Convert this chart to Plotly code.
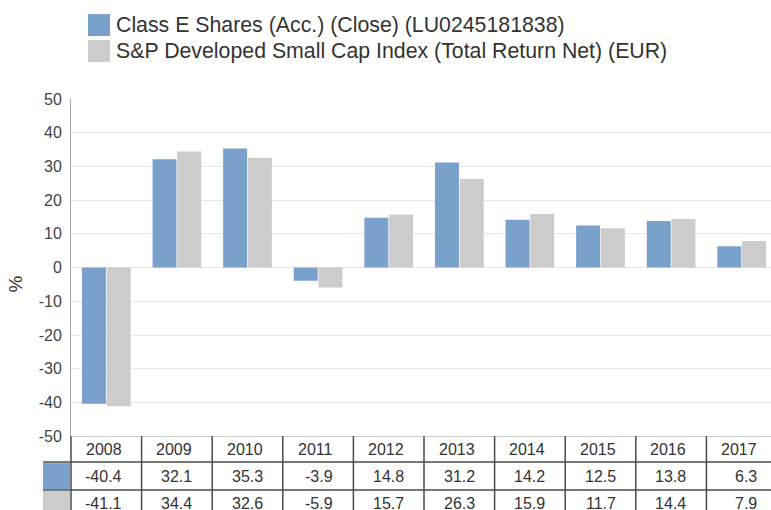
import plotly.graph_objects as go

years = ["2008", "2009", "2010", "2011", "2012", "2013", "2014", "2015", "2016", "2017"]
fund_name = "Class E Shares (Acc.) (Close) (LU0245181838)"
index_name = "S&P Developed Small Cap Index (Total Return Net) (EUR)"
fund_values = [-40.4, 32.1, 35.3, -3.9, 14.8, 31.2, 14.2, 12.5, 13.8, 6.3]
index_values = [-41.1, 34.4, 32.6, -5.9, 15.7, 26.3, 15.9, 11.7, 14.4, 7.9]
y_ticks = [-50, -40, -30, -20, -10, 0, 10, 20, 30, 40, 50]
y_tick_labels = ["-50", "-40", "-30", "-20", "-10", "0", "10", "20", "30", "40", "50"]

BLUE = "#7aa0cc"
GRAY = "#cccccc"
LINE = "#4a4a4a"
TEXT = "#333333"
FONT = "Arial, Liberation Sans, sans-serif"

W, H = 771, 520
SY = H / 510.0
L, R = 71, 0
T = round(97 * SY)
B = 0
PW, PH = W - L - R, H - T - B
XR = [-0.5, 9.415]


def pxx(p):
    return (p - L) / PW


def pxy(p):
    return (H - p * SY) / PH


def dx(v):
    return (v - XR[0]) / (XR[1] - XR[0])


fig = go.Figure()
fig.add_trace(go.Bar(x=list(range(len(years))), y=fund_values, name=fund_name,
                     marker=dict(color=BLUE, line=dict(width=0)), showlegend=False))
fig.add_trace(go.Bar(x=list(range(len(years))), y=index_values, name=index_name,
                     marker=dict(color=GRAY, line=dict(width=0)), showlegend=False))

shapes = []
annotations = []

# custom legend
for k, (name, col) in enumerate([(fund_name, BLUE), (index_name, GRAY)]):
    top = 12 + 26 * k
    shapes.append(dict(type="rect", xref="paper", yref="paper",
                       x0=pxx(88), x1=pxx(110), y0=pxy(top + 22), y1=pxy(top),
                       fillcolor=col, line=dict(width=0)))
    annotations.append(dict(xref="paper", yref="paper", x=pxx(114), y=pxy(top + 11),
                            xanchor="left", yanchor="middle", text=name, showarrow=False,
                            font=dict(size=21.3, color=TEXT, family=FONT)))

# y axis title
annotations.append(dict(xref="paper", yref="paper", x=pxx(15), y=pxy(283), text="%",
                        textangle=-90, showarrow=False, xanchor="center", yanchor="middle",
                        font=dict(size=19, color=TEXT, family=FONT)))

# table grid
for i in range(len(years) + 1):
    xv = dx(i - 0.5)
    if xv <= 1.0:
        shapes.append(dict(type="line", xref="paper", yref="paper", x0=xv, x1=xv,
                           y0=pxy(435), y1=pxy(520), line=dict(color=LINE, width=1.5)))
for yy in (461, 489):
    shapes.append(dict(type="line", xref="paper", yref="paper", x0=pxx(43), x1=1.0,
                       y0=pxy(yy), y1=pxy(yy), line=dict(color=LINE, width=1.5)))
# swatch cells
shapes.append(dict(type="rect", xref="paper", yref="paper", x0=pxx(43), x1=pxx(70),
                   y0=pxy(488), y1=pxy(462), fillcolor=BLUE, line=dict(width=0)))
shapes.append(dict(type="rect", xref="paper", yref="paper", x0=pxx(43), x1=pxx(70),
                   y0=pxy(520), y1=pxy(490), fillcolor=GRAY, line=dict(width=0)))

# table text
rows = [(448, years), (475, [f"{v:.1f}" for v in fund_values]),
        (502, [f"{v:.1f}" for v in index_values])]
off = 18 / (PW / (XR[1] - XR[0]))
for yc, vals in rows:
    for i, t in enumerate(vals):
        annotations.append(dict(xref="x", yref="paper", x=i + 0.5 - off, y=pxy(yc),
                                xanchor="right", yanchor="middle", text=t, showarrow=False,
                                font=dict(size=16, color=TEXT, family=FONT)))

fig.update_layout(
    width=W, height=H,
    margin=dict(l=L, r=R, t=T, b=B, pad=0),
    paper_bgcolor="white", plot_bgcolor="white",
    barmode="group", bargap=0.3, bargroupgap=0.03,
    showlegend=False,
    shapes=shapes, annotations=annotations,
    xaxis=dict(range=XR, showticklabels=False, showgrid=False, zeroline=False,
               showline=True, linecolor="#cccccc", linewidth=1, ticks="", fixedrange=True),
    yaxis=dict(domain=[pxy(435), 1], range=[-50, 50], tickmode="array",
               tickvals=y_ticks, ticktext=y_tick_labels,
               showgrid=True, gridcolor="#e6e6e6", gridwidth=1, zeroline=False,
               showline=True, linecolor="#a6a6a6", linewidth=1,
               ticks="outside", ticklen=5, tickcolor="rgba(0,0,0,0)",
               tickfont=dict(size=16, color="#444444", family=FONT)),
)

post = (
    "var de=document.documentElement,b=document.body;"
    "de.style.margin='0';de.style.padding='0';de.style.overflow='hidden';"
    "b.style.margin='0';b.style.padding='0';b.style.overflow='hidden';"
)
fig.write_html("out.html", config={"displayModeBar": False}, post_script=post)
